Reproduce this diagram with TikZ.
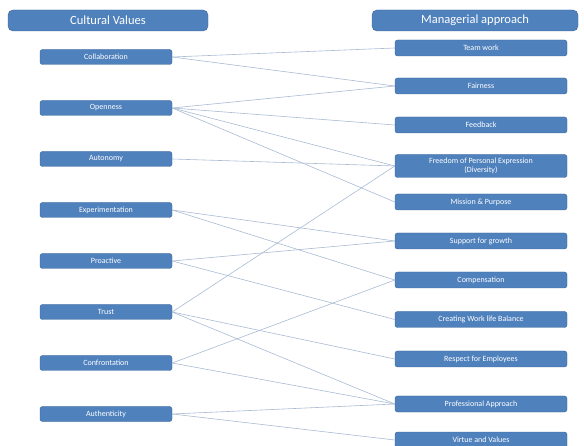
\documentclass[tikz,border=0pt]{standalone}
\usepackage{fontspec}
\setmainfont{Carlito}
\usetikzlibrary{positioning}
\definecolor{boxblue}{HTML}{4F81BD}
\definecolor{boxedge}{HTML}{3A6496}
\definecolor{linkblue}{HTML}{A9BAD3}
\tikzset{
    auto,node distance =1 cm and 1 cm,semithick,
    heading/.style ={rectangle, rounded corners=5pt, draw=boxedge, fill=boxblue, text=white, minimum height=21pt, font=\fontsize{12.5}{14}\selectfont},
    value/.style ={rectangle, rounded corners=2.5pt, draw=boxedge, fill=boxblue, text=white, minimum width=132pt, minimum height=15pt, inner sep=1pt, font=\fontsize{8}{9}\selectfont},
    approach/.style ={value, minimum width=172pt, minimum height=16pt, align=center},
    link/.style = {draw=linkblue, line width=0.6pt}
}

\begin{document}
\begin{tikzpicture}[x=1pt,y=-1pt]
        \useasboundingbox (0,0) rectangle (584,446);
        % Column headings
        \node[heading, minimum width=200pt] (values) at (108,20.5) {Cultural Values};
        \node[heading, minimum width=206pt] (managerial) at (475,20.5) {Managerial approach};
        % Cultural values
        \node[value] (collaboration) at (106,57) {Collaboration};
        \node[value] (openness) [below=35.6pt of collaboration] {Openness};
        \node[value] (autonomy) [below=35.6pt of openness] {Autonomy};
        \node[value] (experimentation) [below=35.6pt of autonomy] {Experimentation};
        \node[value] (proactive) [below=35.6pt of experimentation] {Proactive};
        \node[value] (trust) [below=35.6pt of proactive] {Trust};
        \node[value] (confrontation) [below=35.6pt of trust] {Confrontation};
        \node[value] (authenticity) [below=35.6pt of confrontation] {Authenticity};
        % Managerial approach
        \node[approach] (teamwork) at (481,48) {Team work};
        \node[approach] (fairness) at (481,86) {Fairness};
        \node[approach] (feedback) at (481,125) {Feedback};
        \node[approach, minimum height=23pt] (freedom) at (481,166) {Freedom of Personal Expression\\(Diversity)};
        \node[approach] (mission) at (481,202) {Mission \& Purpose};
        \node[approach] (support) at (481,241) {Support for growth};
        \node[approach] (compensation) at (481,280) {Compensation};
        \node[approach] (balance) at (481,319.5) {Creating Work life Balance};
        \node[approach] (respect) at (481,359) {Respect for Employees};
        \node[approach] (professional) at (481,404) {Professional Approach};
        \node[approach] (virtue) at (481,440) {Virtue and Values};
        % Links from values to approaches
        \path[link] (collaboration.east) edge (teamwork.west) edge (fairness.west);
        \path[link] (openness.east) edge (fairness.west) edge (feedback.west) edge (freedom.west) edge (mission.west);
        \path[link] (autonomy.east) edge (freedom.west);
        \path[link] (experimentation.east) edge (support.west) edge (compensation.west);
        \path[link] (proactive.east) edge (support.west) edge (balance.west);
        \path[link] (trust.east) edge (freedom.west) edge (respect.west) edge (professional.west);
        \path[link] (confrontation.east) edge (compensation.west) edge (professional.west);
        \path[link] (authenticity.east) edge (professional.west) edge (virtue.west);
    \end{tikzpicture}
\end{document}
